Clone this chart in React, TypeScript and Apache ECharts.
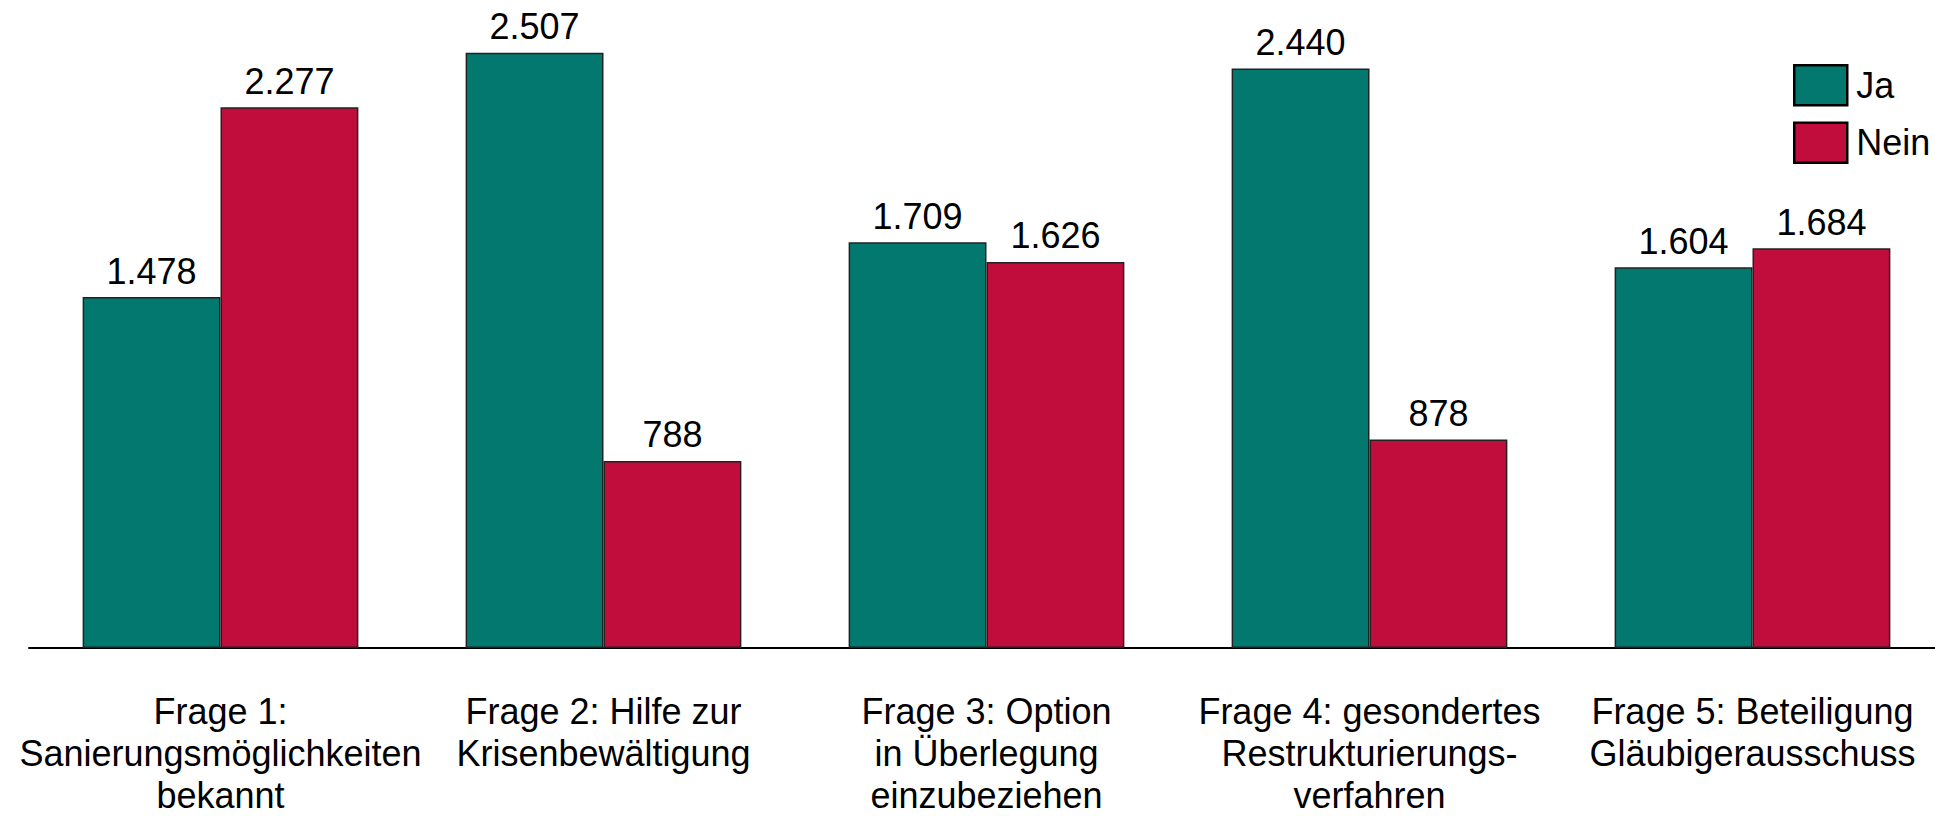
import React, { useEffect, useRef } from "react";
import * as echarts from "echarts";

const categories = [
  "Frage 1:\nSanierungsmöglichkeiten\nbekannt",
  "Frage 2: Hilfe zur\nKrisenbewältigung",
  "Frage 3: Option\nin Überlegung\neinzubeziehen",
  "Frage 4: gesondertes\nRestrukturierungs-\nverfahren",
  "Frage 5: Beteiligung\nGläubigerausschuss",
];
const jaValues = [1478, 2507, 1709, 2440, 1604];
const neinValues = [2277, 788, 1626, 878, 1684];
const seriesNames = ["Ja", "Nein"];
const colors = ["#02786F", "#C10D3C"];

const FONT = "'Liberation Sans', Arial, Helvetica, sans-serif";
const FS = 36;

function fmt(v: number): string {
  const s = String(Math.round(v));
  return s.replace(/\B(?=(\d{3})+(?!\d))/g, ".");
}

export default function App() {
  const ref = useRef<HTMLDivElement>(null);
  useEffect(() => {
    document.body.style.margin = "0";
    if (!ref.current) return;
    const chart = echarts.init(ref.current, undefined, { renderer: "svg" });
    const mkSeries = (name: string, data: number[], color: string) => ({
      name,
      type: "bar",
      data,
      barGap: "0%",
      barCategoryGap: "28%",
      itemStyle: { color, borderColor: "#222", borderWidth: 1.5 },
      label: {
        show: true,
        position: "top",
        distance: 8,
        color: "#000",
        fontSize: FS,
        fontFamily: FONT,
        formatter: (p: any) => fmt(p.value),
      },
    });
    chart.setOption({
      animation: false,
      backgroundColor: "#fff",
      textStyle: { fontFamily: FONT },
      grid: { left: 29, width: 1915, top: 0, bottom: 165, containLabel: false },
      legend: {
        orient: "vertical",
        left: 1793,
        top: 64,
        padding: 0,
        itemWidth: 53,
        itemHeight: 40,
        itemGap: 15,
        icon: "rect",
        data: seriesNames,
        itemStyle: { borderColor: "#000", borderWidth: 2.5 },
        textStyle: { fontSize: FS, color: "#000", fontFamily: FONT, padding: [0, 0, 0, 4] },
      },
      xAxis: {
        type: "category",
        data: categories,
        axisTick: { show: false },
        axisLine: { show: true, lineStyle: { color: "#000", width: 2 } },
        axisLabel: {
          interval: 0,
          fontSize: FS,
          lineHeight: 42,
          color: "#000",
          margin: 42,
          fontFamily: FONT,
        },
      },
      yAxis: {
        type: "value",
        min: 0,
        max: 2729,
        show: false,
        splitLine: { show: false },
      },
      series: [
        mkSeries(seriesNames[0], jaValues, colors[0]),
        mkSeries(seriesNames[1], neinValues, colors[1]),
      ],
    });
    return () => chart.dispose();
  }, []);
  return (
    <div
      style={{
        position: "absolute",
        left: 0,
        top: 0,
        width: 1935,
        height: 816,
        overflow: "hidden",
      }}
    >
      <div ref={ref} style={{ width: 1960, height: 816 }} />
    </div>
  );
}
